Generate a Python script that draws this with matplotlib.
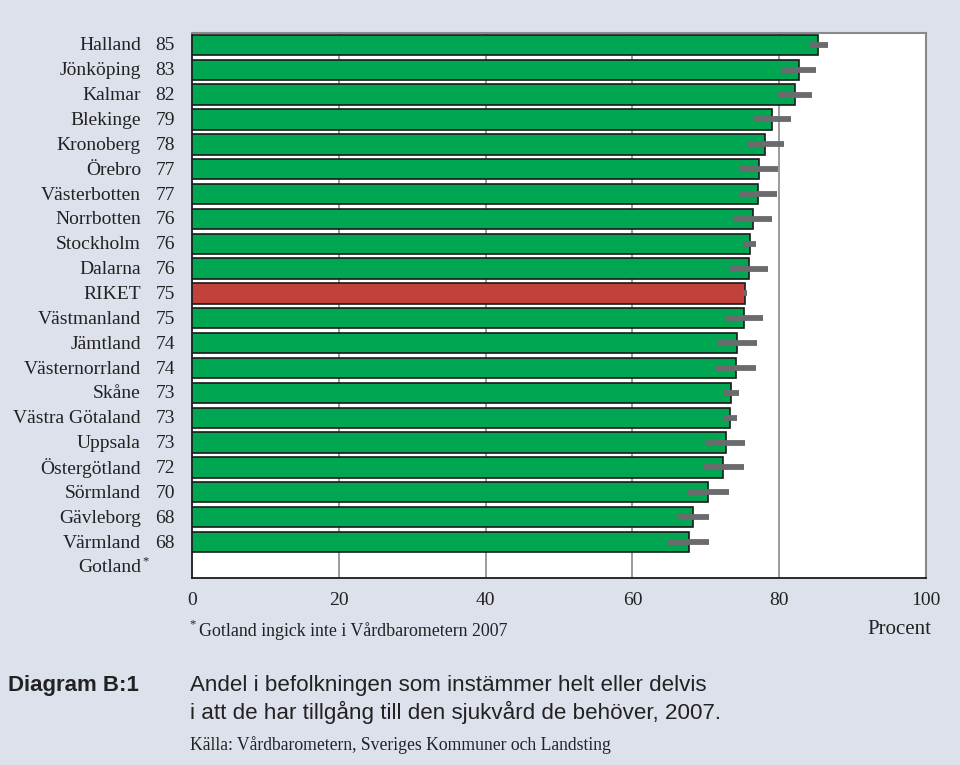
import matplotlib
matplotlib.use("Agg")
import matplotlib.pyplot as plt
import numpy as np

regions = ["Halland", "Jönköping", "Kalmar", "Blekinge", "Kronoberg", "Örebro",
           "Västerbotten", "Norrbotten", "Stockholm", "Dalarna", "RIKET",
           "Västmanland", "Jämtland", "Västernorrland", "Skåne", "Västra Götaland",
           "Uppsala", "Östergötland", "Sörmland", "Gävleborg", "Värmland", "Gotland"]
value_labels = ["85", "83", "82", "79", "78", "77", "77", "76", "76", "76", "75",
                "75", "74", "74", "73", "73", "73", "72", "70", "68", "68", ""]
values = [85.3, 82.7, 82.2, 79.0, 78.1, 77.2, 77.1, 76.4, 76.0, 75.9, 75.3,
          75.2, 74.3, 74.1, 73.4, 73.3, 72.7, 72.4, 70.3, 68.3, 67.7, None]
errors = [1.3, 2.3, 2.3, 2.6, 2.5, 2.6, 2.6, 2.6, 0.9, 2.6, 0.3,
          2.6, 2.7, 2.7, 1.1, 0.9, 2.7, 2.8, 2.8, 2.1, 2.8, None]
xticks = [0, 20, 40, 60, 80, 100]

BG = "#dde1ec"
GREEN = "#00a651"
RED = "#c1413b"
ERR = "#6b6b6d"
GRID = "#8a8a8e"
TXT = "#222222"

fig = plt.figure(figsize=(9.6, 7.65), dpi=100, facecolor=BG)
ax = fig.add_axes([192/960, 1-578/765, (926-192)/960, (578-33)/765])
ax.set_facecolor("white")

for i, (r, v, e) in enumerate(zip(regions, values, errors)):
    if v is None:
        continue
    col = RED if r == "RIKET" else GREEN
    ax.barh(i, v, height=0.82, color=col, edgecolor="#1a1a1a", linewidth=1.2, zorder=3)
    ax.errorbar(v, i, xerr=e, fmt="none", ecolor=ERR, elinewidth=4.2, capsize=0, zorder=4)

ax.set_xlim(0, 100)
ax.set_ylim(21.45, -0.48)
ax.set_xticks(xticks)
ax.set_yticks([])
for x in [20, 40, 60, 80]:
    ax.axvline(x, color=GRID, lw=1.2, zorder=1)
ax.tick_params(axis="x", length=0, pad=10, labelsize=14)
for lab in ax.get_xticklabels():
    lab.set_fontfamily("Liberation Serif")
    lab.set_color(TXT)
for s in ["left", "bottom"]:
    ax.spines[s].set_color("#1a1a1a")
    ax.spines[s].set_linewidth(1.3)
for s in ["top", "right"]:
    ax.spines[s].set_color(GRID)
    ax.spines[s].set_linewidth(1.5)

serif = "Liberation Serif"
for i, (r, vl) in enumerate(zip(regions, value_labels)):
    y = 1 - (46 + i * 24.85) / 765
    fig.text(141/960, y, r, ha="right", va="center", fontsize=14,
             family=serif, color=TXT)
    if vl:
        fig.text(175/960, y, vl, ha="right", va="center", fontsize=14,
                 family=serif, color=TXT)
# superscript asterisk for Gotland
fig.text(142/960, 1 - 561/765, "*", ha="left", va="center", fontsize=9,
         family=serif, color=TXT)

fig.text(189/960, 1 - 624/765, "*", ha="left", va="center", fontsize=9,
         family=serif, color=TXT)
fig.text(199/960, 1 - 631/765, "Gotland ingick inte i Vårdbarometern 2007",
         ha="left", va="center", fontsize=12.9, family=serif, color=TXT)
fig.text(931/960, 1 - 629/765, "Procent", ha="right", va="center", fontsize=15,
         family=serif, color=TXT)

fig.text(8/960, 1 - 685/765, "Diagram B:1", ha="left", va="center", fontsize=16,
         family="Liberation Sans", fontweight="bold", color=TXT)
fig.text(190/960, 1 - 685/765, "Andel i befolkningen som instämmer helt eller delvis",
         ha="left", va="center", fontsize=16.1, family="Liberation Sans", color=TXT)
fig.text(190/960, 1 - 712/765, "i att de har tillgång till den sjukvård de behöver, 2007.",
         ha="left", va="center", fontsize=16.1, family="Liberation Sans", color=TXT)
fig.text(190/960, 1 - 745/765, "Källa: Vårdbarometern, Sveriges Kommuner och Landsting",
         ha="left", va="center", fontsize=12.7, family=serif, color=TXT)

fig.savefig("out.png", dpi=100, facecolor=BG)
